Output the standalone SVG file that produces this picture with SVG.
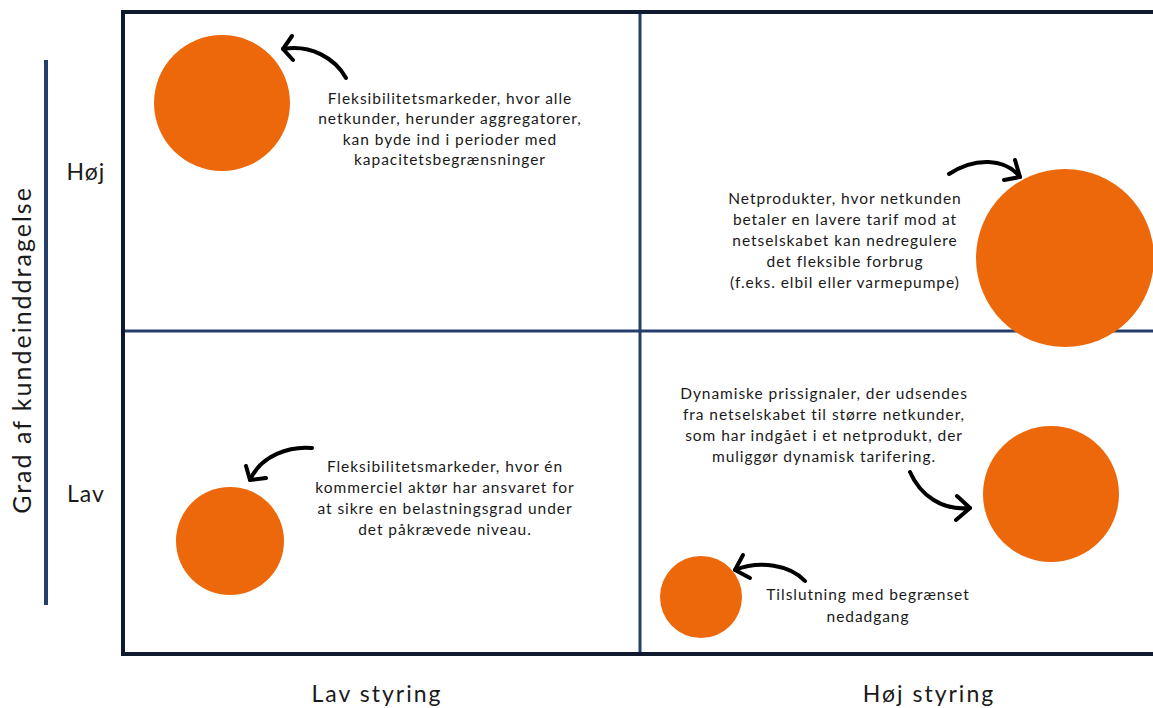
<svg xmlns="http://www.w3.org/2000/svg" width="1153" height="708" viewBox="0 0 1153 708">
<defs>
<style>
.dot{fill:#ec680b}
.frame{stroke:#0f1a2e;stroke-width:4;fill:none}
.mid{stroke:#243f6b;stroke-width:3;fill:none}
.arr{stroke:#000;stroke-width:4;fill:none;stroke-linecap:round;stroke-linejoin:round}
.t{font-family:Lato,"Noto Sans",sans-serif;font-size:15.5px;fill:#1a1a1a;text-anchor:middle;letter-spacing:0.95px}
.ax{font-family:Lato,"Noto Sans",sans-serif;font-size:23px;fill:#1a1a1a;text-anchor:middle;letter-spacing:2px}
</style>
</defs>
<rect width="1153" height="708" fill="#fff"/>
<g id="grid">
<line class="mid" x1="640" y1="12" x2="640" y2="654"/>
<line class="mid" x1="123" y1="331" x2="1153" y2="331"/>
<polyline class="frame" points="1153,12 123,12 123,654 1153,654"/>
<line x1="46" y1="60" x2="46" y2="605" stroke="#243f6b" stroke-width="4"/>
</g>
<g id="axis-labels">
<text class="ax" x="86" y="180" style="letter-spacing:1px">Høj</text>
<text class="ax" x="86" y="502" style="letter-spacing:1px">Lav</text>
<text class="ax" transform="translate(31,350) rotate(-90)" style="font-size:25px">Grad af kundeinddragelse</text>
<text class="ax" x="377" y="702">Lav styring</text>
<text class="ax" x="929" y="702">Høj styring</text>
</g>
<g id="node-tl">
<circle class="dot" cx="222" cy="103" r="68"/>
<text class="t" x="450" y="104">Fleksibilitetsmarkeder, hvor alle</text>
<text class="t" x="450" y="124">netkunder, herunder aggregatorer,</text>
<text class="t" x="450" y="145">kan byde ind i perioder med</text>
<text class="t" x="450" y="165">kapacitetsbegrænsninger</text>
</g>
<g id="node-tr">
<circle class="dot" cx="1065" cy="258" r="89"/>
<text class="t" x="845" y="204">Netprodukter, hvor netkunden</text>
<text class="t" x="845" y="225">betaler en lavere tarif mod at</text>
<text class="t" x="845" y="246">netselskabet kan nedregulere</text>
<text class="t" x="845" y="267">det fleksible forbrug</text>
<text class="t" x="845" y="288">(f.eks. elbil eller varmepumpe)</text>
</g>
<g id="node-bl">
<circle class="dot" cx="230" cy="541" r="54"/>
<text class="t" x="445" y="472">Fleksibilitetsmarkeder, hvor én</text>
<text class="t" x="445" y="493">kommerciel aktør har ansvaret for</text>
<text class="t" x="445" y="514">at sikre en belastningsgrad under</text>
<text class="t" x="445" y="535">det påkrævede niveau.</text>
</g>
<g id="node-br1">
<circle class="dot" cx="1051" cy="494" r="68"/>
<text class="t" x="824" y="399">Dynamiske prissignaler, der udsendes</text>
<text class="t" x="824" y="420">fra netselskabet til større netkunder,</text>
<text class="t" x="824" y="441">som har indgået i et netprodukt, der</text>
<text class="t" x="824" y="462">muliggør dynamisk tarifering.</text>
</g>
<g id="node-br2">
<circle class="dot" cx="701" cy="597" r="41"/>
<text class="t" x="868" y="600">Tilslutning med begrænset</text>
<text class="t" x="868" y="622">nedadgang</text>
</g>
<g id="connectors">
<path class="arr" d="M346,78 C335,58 310,44 283,49"/>
<path class="arr" d="M292,36 L283,49 L293,60"/>
<path class="arr" d="M949,174 C975,157 1005,158 1020,177"/>
<path class="arr" d="M1015,160 L1020,177 L1004,180"/>
<path class="arr" d="M312,448 C290,446 261,455 250,480"/>
<path class="arr" d="M246,466 L250,480 L266,478"/>
<path class="arr" d="M910,472 C920,495 942,511 970,508"/>
<path class="arr" d="M957,496 L970,508 L956,520"/>
<path class="arr" d="M805,581 C790,565 760,560 735,570"/>
<path class="arr" d="M743,555 L735,570 L750,578"/>
</g>
</svg>
